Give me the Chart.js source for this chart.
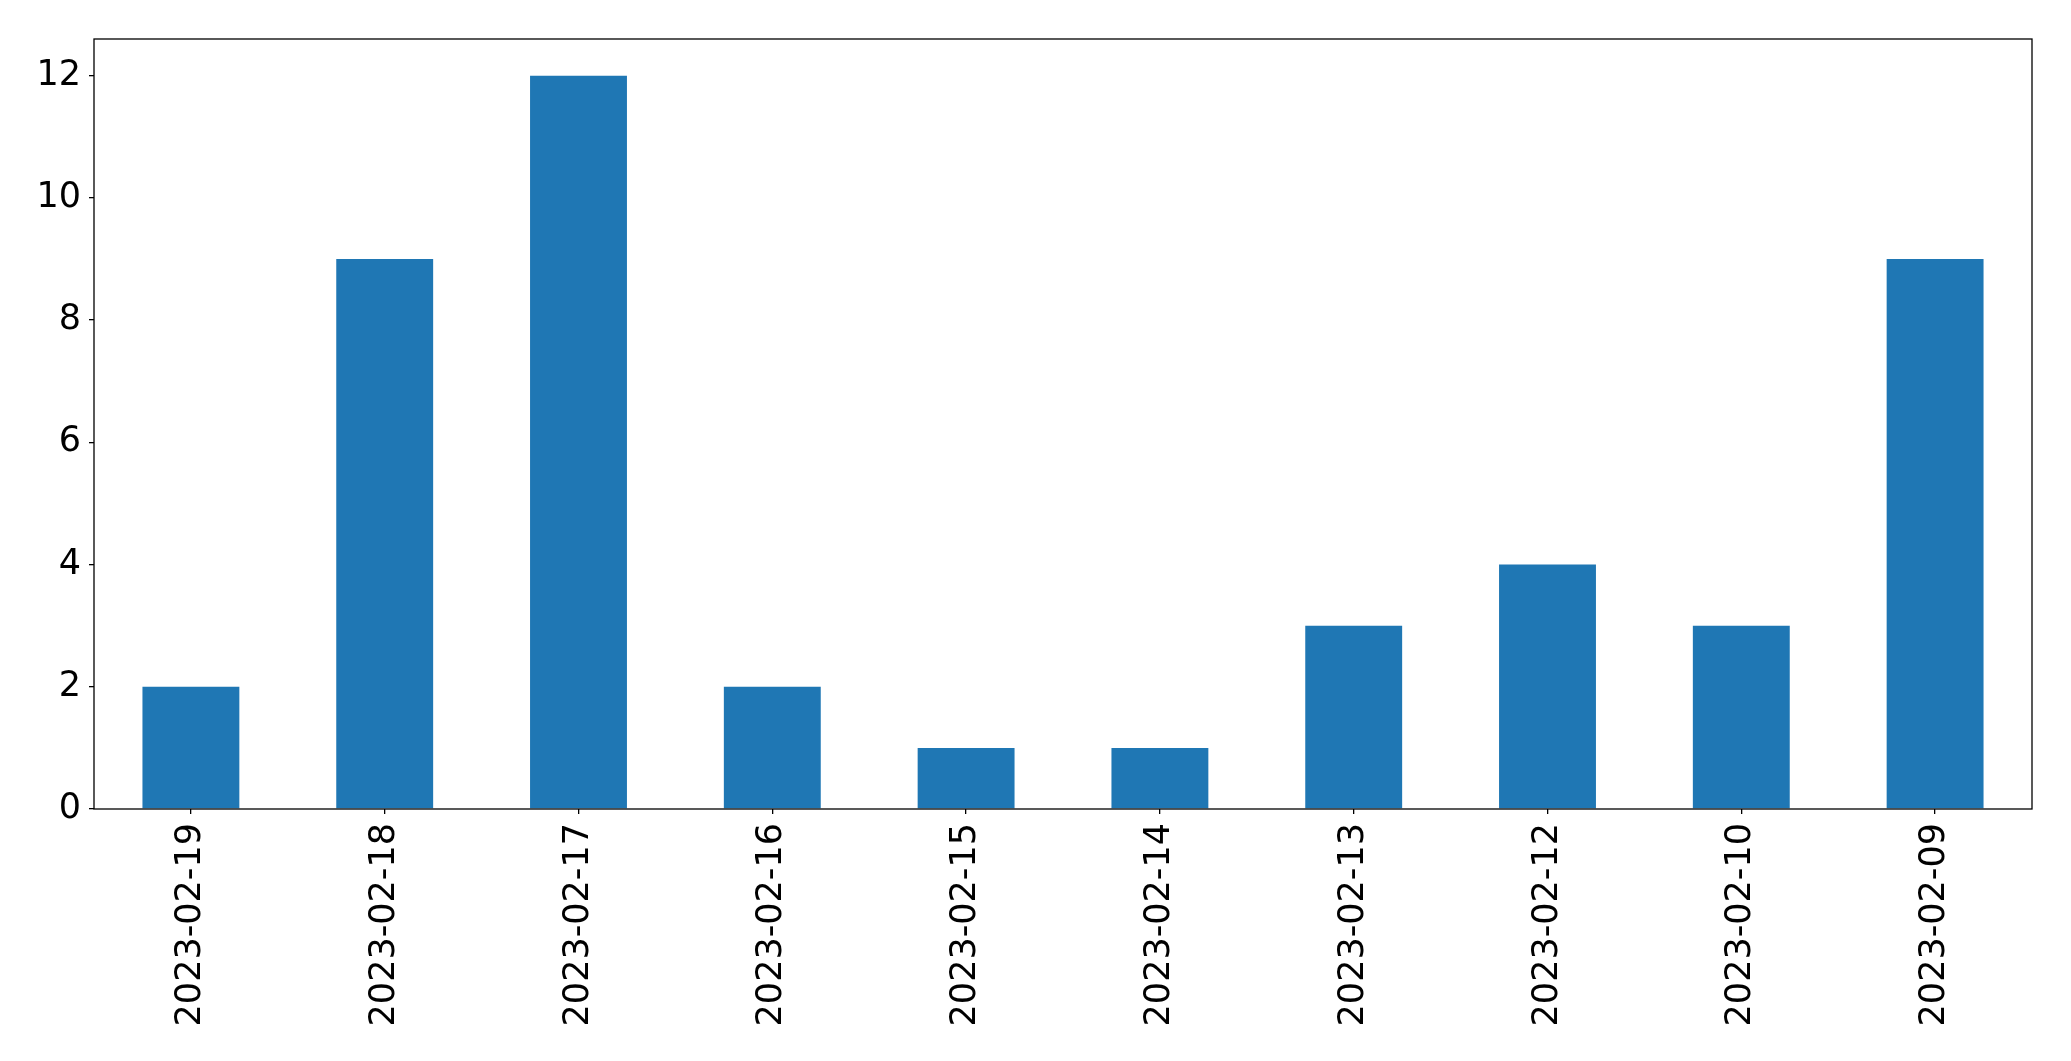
<!DOCTYPE html>
<html lang="en">
<head>
    <meta charset="UTF-8">
    <title>Bar chart</title>
    <style>
        body {
            margin: 0;
            background-color: #ffffff;
        }
        .chart-container {
            position: relative;
            width: 2071px;
            height: 1061px;
        }
    </style>
    <script src="https://cdn.jsdelivr.net/npm/chart.js"></script>
</head>
<body>
    <div class="chart-container">
        <canvas id="chart"></canvas>
    </div>
    <script>
        const dates = ['2023-02-19', '2023-02-18', '2023-02-17', '2023-02-16', '2023-02-15',
                       '2023-02-14', '2023-02-13', '2023-02-12', '2023-02-10', '2023-02-09'];
        const counts = [2, 9, 12, 2, 1, 1, 3, 4, 3, 9];
        const yTicks = [0, 2, 4, 6, 8, 10, 12];

        // рамка вокруг области графика, как у matplotlib
        const frame = {
            id: 'frame',
            afterDraw(chart) {
                const { ctx, chartArea } = chart;
                ctx.save();
                ctx.strokeStyle = '#000000';
                ctx.lineWidth = 1.3;
                ctx.strokeRect(chartArea.left, chartArea.top,
                    chartArea.right - chartArea.left, chartArea.bottom - chartArea.top);
                ctx.restore();
            }
        };

        const font = { family: 'DejaVu Sans', size: 35 };

        new Chart(document.getElementById('chart'), {
            type: 'bar',
            data: {
                labels: dates,
                datasets: [{
                    data: counts,
                    backgroundColor: '#1f77b4',
                    borderWidth: 0,
                    barPercentage: 0.5,
                    categoryPercentage: 1.0
                }]
            },
            options: {
                responsive: true,
                maintainAspectRatio: false,
                animation: false,
                layout: {
                    padding: { left: 0, top: 39, right: 39, bottom: 0 }
                },
                plugins: {
                    legend: { display: false },
                    tooltip: { enabled: false }
                },
                scales: {
                    x: {
                        offset: true,
                        grid: {
                            display: true,
                            offset: false,
                            drawOnChartArea: false,
                            drawTicks: true,
                            tickLength: 5,
                            color: '#000000',
                            lineWidth: 1.3
                        },
                        border: { display: false },
                        ticks: {
                            color: '#000000',
                            font: font,
                            minRotation: 90,
                            maxRotation: 90,
                            autoSkip: false,
                            padding: 9
                        },
                        afterFit(scale) {
                            scale.height = 252;
                        }
                    },
                    y: {
                        min: 0,
                        max: 12.6,
                        grid: {
                            display: true,
                            drawOnChartArea: false,
                            drawTicks: true,
                            tickLength: 5,
                            color: '#000000',
                            lineWidth: 1.3
                        },
                        border: { display: false },
                        afterBuildTicks(scale) {
                            scale.ticks = yTicks.map(v => ({ value: v }));
                        },
                        ticks: {
                            color: '#000000',
                            font: font,
                            padding: 8
                        },
                        afterFit(scale) {
                            scale.width = 94;
                        }
                    }
                }
            },
            plugins: [frame]
        });
    </script>
</body>
</html>
